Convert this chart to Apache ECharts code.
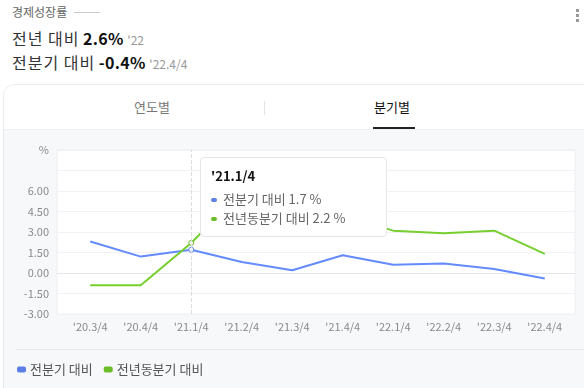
<!DOCTYPE html>
<html><head><meta charset="utf-8">
<script src="https://cdn.jsdelivr.net/npm/echarts@6/dist/echarts.min.js"></script>
<style>
html,body{margin:0;padding:0;width:584px;height:388px;overflow:hidden;background:#fff;font-family:"Noto Sans CJK KR","Noto Sans",sans-serif;}
.abs{position:absolute;}
#title{left:12px;top:3px;font-size:12px;color:#666;}
#tline{left:74px;top:12px;width:26px;height:1px;background:#ccc;}
.big{font-size:16px;color:#333;font-weight:400;white-space:nowrap;}
.big em{font-style:normal;letter-spacing:1px;}
.big b{color:#111;font-weight:700;letter-spacing:0.3px;}
.big span{font-size:12px;color:#999;}
#dots{left:576px;top:9px;width:3px;}
#dots i{display:block;width:3px;height:3px;background:#999;margin-bottom:2px;}
#card{left:3px;top:84px;width:590px;height:330px;border:1px solid #e9eaee;border-radius:12px;background:#f7f8fa;overflow:hidden;}
#tabs{left:0;top:0;width:100%;height:44px;background:#fff;border-bottom:1px solid #eef0f3;}
#sep{left:12px;top:264px;width:580px;height:1px;background:#e6e8ec;}
#chart{position:absolute;left:0;top:0;width:584px;height:388px;}
</style></head>
<body>
<div id="title" class="abs">경제성장률</div>
<div id="tline" class="abs"></div>
<div class="abs big" style="left:12px;top:26px;"><em>전년 대비</em> <b>2.6%</b> <span>'22</span></div>
<div class="abs big" style="left:12px;top:50px;"><em>전분기 대비</em> <b>-0.4%</b> <span>'22.4/4</span></div>
<div id="dots" class="abs"><i></i><i></i><i></i></div>
<div id="card" class="abs">
  <div id="tabs" class="abs">
    <div class="abs" style="left:130px;top:12px;font-size:13px;color:#777;">연도별</div>
    <div class="abs" style="left:260px;top:16px;width:1px;height:14px;background:#e3e3e3;"></div>
    <div class="abs" style="left:370px;top:12px;font-size:13px;color:#111;">분기별</div>
    <div class="abs" style="left:369px;top:42px;width:42px;height:2px;background:#222;"></div>
  </div>
  <div id="sep" class="abs"></div>
</div>
<div id="chart"></div>
<script>
var categories = ["'20.3/4","'20.4/4","'21.1/4","'21.2/4","'21.3/4","'21.4/4","'22.1/4","'22.2/4","'22.3/4","'22.4/4"];
var qoq = [2.3, 1.2, 1.7, 0.8, 0.2, 1.3, 0.6, 0.7, 0.3, -0.4];
var yoy = [-0.9, -0.9, 2.2, 6.0, 4.0, 4.2, 3.1, 2.9, 3.1, 1.4];
var seriesNames = ['전분기 대비', '전년동분기 대비'];
var colors = ['#5b7fe6', '#6cbd2a'];

var chart = echarts.init(document.getElementById('chart'));
var font = '"Noto Sans CJK KR","Noto Sans",sans-serif';
function mkSeries(i, data) {
  return {name: seriesNames[i], type: 'line', xAxisIndex: 1, yAxisIndex: 1, data: data,
    showSymbol: false, symbol: 'emptyCircle', symbolSize: 5,
    lineStyle: {width: 2, color: colors[i]},
    itemStyle: {color: colors[i], borderColor: colors[i], borderWidth: 1},
    emphasis: {scale: false, lineStyle: {width: 2}, itemStyle: {borderWidth: 1}}};
}
chart.setOption({
  animation: false,
  textStyle: {fontFamily: font},
  grid: [
    {left: 57, right: 9, top: 150, bottom: 74, show: true, backgroundColor: '#fff', borderColor: '#eceef2', borderWidth: 1},
    {left: 65, right: 14, top: 150, bottom: 74}
  ],
  xAxis: [
    {gridIndex: 0, type: 'value', min: 0, max: 1, axisLine: {show: true, onZero: true, lineStyle: {color: '#e2e5ea'}},
     axisTick: {show: false}, axisLabel: {show: false}, splitLine: {show: false}},
    {gridIndex: 1, type: 'category', data: categories, boundaryGap: true,
     axisLine: {show: false}, axisTick: {show: false},
     axisLabel: {color: '#8a8a8a', fontSize: 11, margin: 7, interval: 0}}
  ],
  yAxis: [
    {gridIndex: 0, type: 'value', min: -3, max: 9, interval: 1.5,
     axisLine: {show: false}, axisTick: {show: false},
     splitLine: {lineStyle: {color: '#f1f2f5'}},
     axisLabel: {color: '#8a8a8a', fontSize: 11, margin: 8,
       formatter: function (v) { if (v === 9) return '%'; if (v === 7.5) return ''; return v.toFixed(2); }}},
    {gridIndex: 1, type: 'value', min: -3, max: 9, interval: 1.5, show: false, splitLine: {show: false}}
  ],
  legend: {
    left: 12, top: 358, icon: 'roundRect', itemWidth: 7, itemHeight: 4, itemGap: 11,
    textStyle: {color: '#555', fontSize: 13}, data: seriesNames
  },
  tooltip: {
    trigger: 'axis', triggerOn: 'none', alwaysShowContent: true,
    position: function () { return [200, 157]; },
    backgroundColor: '#fff', borderColor: '#e4e6ea', borderWidth: 1, padding: [9, 10],
    extraCssText: 'box-shadow:none;border-radius:4px;width:165px;height:60px;',
    axisPointer: {type: 'line', lineStyle: {color: '#ddd', type: 'dashed', width: 1}},
    formatter: function (ps) {
      var s = '<div style="font-size:13px;font-weight:700;color:#111;line-height:18px;margin-bottom:4px;">' + ps[0].name + '</div>';
      ps.forEach(function (p) {
        s += '<div style="font-size:13px;color:#666;line-height:19px;white-space:nowrap;"><span style="display:inline-block;width:6px;height:4px;border-radius:2px;background:' + colors[p.seriesIndex] + ';margin-right:6px;vertical-align:middle;"></span>' + p.seriesName + ' ' + p.value + ' %</div>';
      });
      return s;
    }
  },
  series: [mkSeries(0, qoq), mkSeries(1, yoy)]
});
chart.dispatchAction({type: 'showTip', seriesIndex: 0, dataIndex: 2});
</script>
</body></html>
